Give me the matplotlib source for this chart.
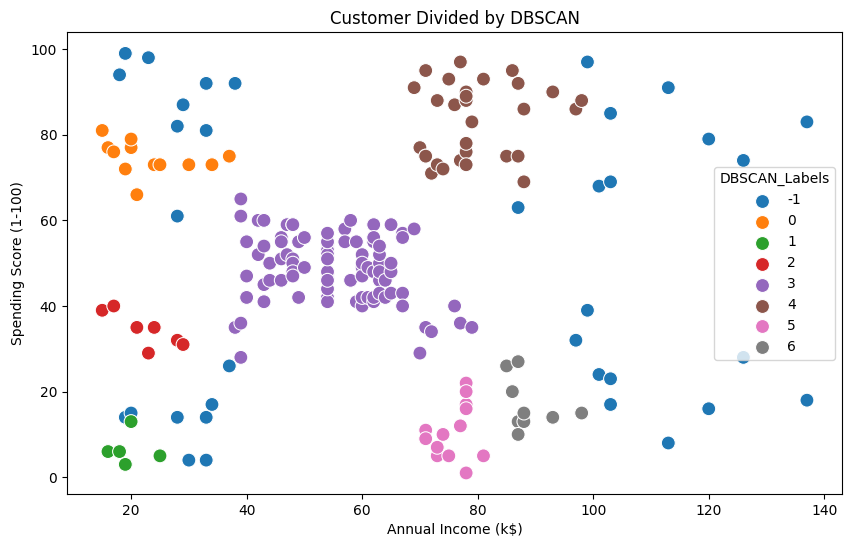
import matplotlib
matplotlib.use("Agg")
import matplotlib.pyplot as plt

# Mall customers: annual income (k$), spending score, DBSCAN label
income = [15, 15, 16, 16, 17, 17, 18, 18, 19, 19, 19, 19, 20, 20, 20, 20, 21, 21, 23, 23,
          24, 24, 25, 25, 28, 28, 28, 28, 29, 29, 30, 30, 33, 33, 33, 33, 34, 34, 37, 37,
          38, 38, 39, 39, 39, 39, 40, 40, 40, 40, 42, 42, 43, 43, 43, 43, 44, 44, 46, 46,
          46, 46, 47, 47, 48, 48, 48, 48, 48, 48, 49, 49, 50, 50, 54, 54, 54, 54, 54, 54,
          54, 54, 54, 54, 54, 54, 57, 57, 58, 58, 59, 59, 60, 60, 60, 60, 60, 60, 61, 61,
          62, 62, 62, 62, 62, 62, 63, 63, 63, 63, 63, 63, 64, 64, 65, 65, 65, 65, 67, 67,
          67, 67, 69, 69, 70, 70, 71, 71, 71, 71, 71, 71, 72, 72, 73, 73, 73, 73, 74, 74,
          75, 75, 76, 76, 77, 77, 77, 77, 78, 78, 78, 78, 78, 78, 78, 78, 78, 78, 78, 78,
          79, 79, 81, 81, 85, 85, 86, 86, 87, 87, 87, 87, 87, 87, 88, 88, 88, 88, 93, 93,
          97, 97, 98, 98, 99, 99, 101, 101, 103, 103, 103, 103, 113, 113, 120, 120, 126, 126, 137, 137]
score = [39, 81, 6, 77, 40, 76, 6, 94, 3, 72, 14, 99, 15, 77, 13, 79, 35, 66, 29, 98,
         35, 73, 5, 73, 14, 82, 32, 61, 31, 87, 4, 73, 4, 92, 14, 81, 17, 73, 26, 75,
         35, 92, 36, 61, 28, 65, 55, 47, 42, 42, 52, 60, 54, 60, 45, 41, 50, 46, 51, 46,
         56, 55, 52, 59, 51, 59, 50, 48, 59, 47, 55, 42, 49, 56, 47, 54, 53, 48, 52, 42,
         51, 55, 41, 44, 57, 46, 58, 55, 60, 46, 55, 41, 49, 40, 42, 52, 47, 50, 42, 49,
         41, 48, 59, 55, 56, 42, 50, 46, 43, 48, 52, 54, 42, 46, 48, 50, 43, 59, 43, 57,
         56, 40, 58, 91, 29, 77, 35, 95, 11, 75, 9, 75, 34, 71, 5, 88, 7, 73, 10, 72,
         5, 93, 40, 87, 12, 97, 36, 74, 22, 90, 17, 88, 20, 76, 16, 89, 1, 78, 1, 73,
         35, 83, 5, 93, 26, 75, 20, 95, 27, 63, 13, 75, 10, 92, 13, 86, 15, 69, 14, 90,
         32, 86, 15, 88, 39, 97, 24, 68, 17, 85, 23, 69, 8, 91, 16, 79, 28, 74, 18, 83]
labels = [2, 0, 1, 0, 2, 0, 1, -1, 1, 0, -1, -1, -1, 0, 1, 0, 2, 0, 2, -1,
          2, 0, 1, 0, -1, -1, 2, -1, 2, -1, -1, 0, -1, -1, -1, -1, -1, 0, -1, 0,
          3, -1, 3, 3, 3, 3, 3, 3, 3, 3, 3, 3, 3, 3, 3, 3, 3, 3, 3, 3,
          3, 3, 3, 3, 3, 3, 3, 3, 3, 3, 3, 3, 3, 3, 3, 3, 3, 3, 3, 3,
          3, 3, 3, 3, 3, 3, 3, 3, 3, 3, 3, 3, 3, 3, 3, 3, 3, 3, 3, 3,
          3, 3, 3, 3, 3, 3, 3, 3, 3, 3, 3, 3, 3, 3, 3, 3, 3, 3, 3, 3,
          3, 3, 3, 4, 3, 4, 3, 4, 5, 4, 5, 4, 3, 4, 5, 4, 5, 4, 5, 4,
          5, 4, 3, 4, 5, 4, 3, 4, 5, 4, 5, 4, 5, 4, 5, 4, 5, 4, 5, 4,
          3, 4, 5, 4, 6, 4, 6, 4, 6, -1, 6, 4, 6, 4, 6, 4, 6, 4, 6, 4,
          -1, 4, 6, 4, -1, -1, -1, -1, -1, -1, -1, -1, -1, -1, -1, -1, -1, -1, -1, -1]

label_order = [-1, 0, 1, 2, 3, 4, 5, 6]
colors = ["#1f77b4", "#ff7f0e", "#2ca02c", "#d62728",
          "#9467bd", "#8c564b", "#e377c2", "#7f7f7f"]

fig = plt.figure(figsize=(8.5, 5.47), dpi=100)
ax = fig.add_axes([0.0788, 0.097, 0.912, 0.8437])

# draw in data order so overlaps look like seaborn's single scatter call
point_colors = [colors[label_order.index(l)] for l in labels]
ax.scatter(income, score, c=point_colors, s=100, edgecolors="white", linewidths=0.75)

for lab, col in zip(label_order, colors):
    ax.scatter([], [], c=col, s=100, edgecolors="white", linewidths=0.75, label=str(lab))

ax.legend(title="DBSCAN_Labels", loc="center right")
ax.set_title("Customer Divided by DBSCAN")
ax.set_xlabel("Annual Income (k$)")
ax.set_ylabel("Spending Score (1-100)")

fig.savefig("out.png", dpi=100)
